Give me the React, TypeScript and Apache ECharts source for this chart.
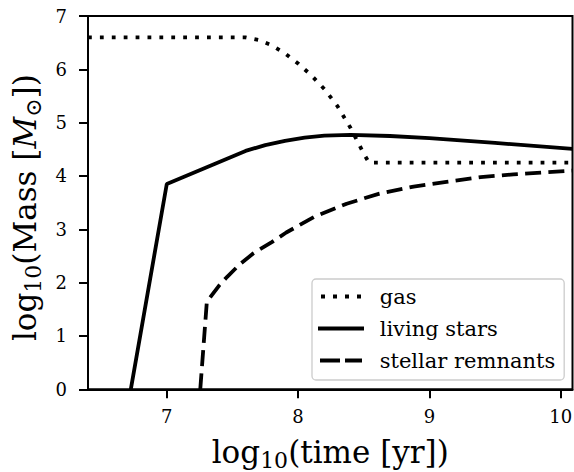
import React, { useEffect, useRef } from "react";
import * as echarts from "echarts";

const gasData: [number, number][] = [
  [6.4, 6.6], [7.6, 6.6], [7.7, 6.55], [7.8, 6.45], [7.9, 6.3], [8.0, 6.11],
  [8.1, 5.89], [8.2, 5.63], [8.3, 5.31], [8.4, 4.9], [8.5, 4.42], [8.54, 4.25],
  [10.09, 4.25],
];
const livingData: [number, number][] = [
  [6.726, 0], [7.0, 3.85], [7.3, 4.16], [7.6, 4.47], [7.75, 4.58], [7.9, 4.66],
  [8.05, 4.72], [8.2, 4.755], [8.4, 4.77], [8.7, 4.75], [9.0, 4.71], [9.5, 4.62],
  [10.09, 4.51],
];
const remnantData: [number, number][] = [
  [7.255, 0], [7.305, 1.64], [7.4, 1.95], [7.46, 2.11], [7.55, 2.33], [7.66, 2.55],
  [7.8, 2.76], [7.91, 2.94], [8.12, 3.23], [8.37, 3.48], [8.62, 3.67], [8.88, 3.8],
  [9.13, 3.89], [9.39, 3.98], [9.64, 4.03], [10.09, 4.1],
];
const xTicks = [7, 8, 9, 10];
const seriesNames = ["gas", "living stars", "stellar remnants"];

const FONT = "DejaVu Serif";
const LEGEND_FONT = "'DejaVu Serif', serif";

const ICON_GAS = "path://M0 0h4v4h-4zM12 0h4v4h-4zM24 0h4v4h-4zM36 0h4v4h-4z";
const ICON_SOLID = "path://M0 0h46v4h-46z";
const ICON_DASH = "path://M0 0h20v4h-20zM25 0h17v4h-17z";

export default function App() {
  const ref = useRef<HTMLDivElement>(null);
  useEffect(() => {
    if (!ref.current) return;
    const chart = echarts.init(ref.current, null, { renderer: "svg" });
    const titleRich = {
      sub: { fontFamily: FONT, fontSize: 22, lineHeight: 26, verticalAlign: "bottom", color: "#000" },
      it: { fontFamily: FONT, fontSize: 31, lineHeight: 39, fontStyle: "italic", color: "#000" },
      m: { fontFamily: FONT, fontSize: 31, lineHeight: 39, color: "#000" },
    };
    chart.setOption({
      animation: false,
      backgroundColor: "#fff",
      textStyle: { fontFamily: FONT, color: "#000" },
      grid: {
        left: 88, top: 16, width: 484.5, height: 373.3,
        containLabel: false, outerBoundsMode: "none",
        show: true, borderColor: "#000", borderWidth: 2, backgroundColor: "transparent",
      },
      legend: {
        data: [
          { name: seriesNames[0], icon: ICON_GAS },
          { name: seriesNames[1], icon: ICON_SOLID },
          { name: seriesNames[2], icon: ICON_DASH },
        ],
        orient: "vertical",
        left: 312, top: 279,
        itemWidth: 46, itemHeight: 4, itemGap: 11,
        padding: [7, 9, 9, 6],
        borderColor: "#cccccc", borderWidth: 1.3, borderRadius: 4,
        backgroundColor: "#fff",
        itemStyle: { color: "#000", borderWidth: 0 },
        formatter: "{t|{name}}",
        textStyle: {
          fontFamily: LEGEND_FONT, fontSize: 21, color: "#000",
          rich: { t: { fontFamily: LEGEND_FONT, fontSize: 21, lineHeight: 22, color: "#000", padding: [0, 0, 0, 10.7] } },
        },
      },
      xAxis: {
        type: "value", min: 6.4, max: 10.09,
        name: "{m|log}{sub|10}{m|(time [yr])}",
        nameLocation: "middle", nameGap: 43,
        nameTextStyle: { fontFamily: FONT, fontSize: 31, lineHeight: 39, color: "#000", rich: titleRich },
        axisLine: { show: true, lineStyle: { color: "#000", width: 2 } },
        axisTick: { show: true, length: 9, customValues: xTicks, lineStyle: { color: "#000", width: 2 } },
        axisLabel: { customValues: xTicks, margin: 18, fontFamily: FONT, fontSize: 18, color: "#000" },
        splitLine: { show: false },
      },
      yAxis: {
        type: "value", min: 0, max: 7, interval: 1,
        name: "{m|log}{sub|10}{m|(Mass [}{it|M}{sub|⊙}{m|])}",
        nameLocation: "middle", nameGap: 44,
        nameTextStyle: {
          fontFamily: FONT, fontSize: 31, lineHeight: 39, color: "#000",
          padding: [0, 10, 0, 0], rich: titleRich,
        },
        axisLine: { show: true, lineStyle: { color: "#000", width: 2 } },
        axisTick: { show: true, length: 9, lineStyle: { color: "#000", width: 2 } },
        axisLabel: { margin: 21, fontFamily: FONT, fontSize: 18, color: "#000" },
        splitLine: { show: false },
      },
      series: [
        {
          name: seriesNames[0], type: "line", data: gasData, symbol: "none",
          lineStyle: { color: "#000", width: 3.8, type: [3.8, 8.1], cap: "butt" },
          itemStyle: { color: "#000" },
        },
        {
          name: seriesNames[1], type: "line", data: livingData, symbol: "none",
          lineStyle: { color: "#000", width: 3.8, type: "solid" },
          itemStyle: { color: "#000" },
        },
        {
          name: seriesNames[2], type: "line", data: remnantData, symbol: "none",
          lineStyle: { color: "#000", width: 3.8, type: [16, 7.3], cap: "butt" },
          itemStyle: { color: "#000" },
        },
      ],
    });
    return () => chart.dispose();
  }, []);
  return (
    <div
      ref={ref}
      style={{ position: "absolute", left: 0, top: 0, width: 574, height: 472 }}
    />
  );
}
